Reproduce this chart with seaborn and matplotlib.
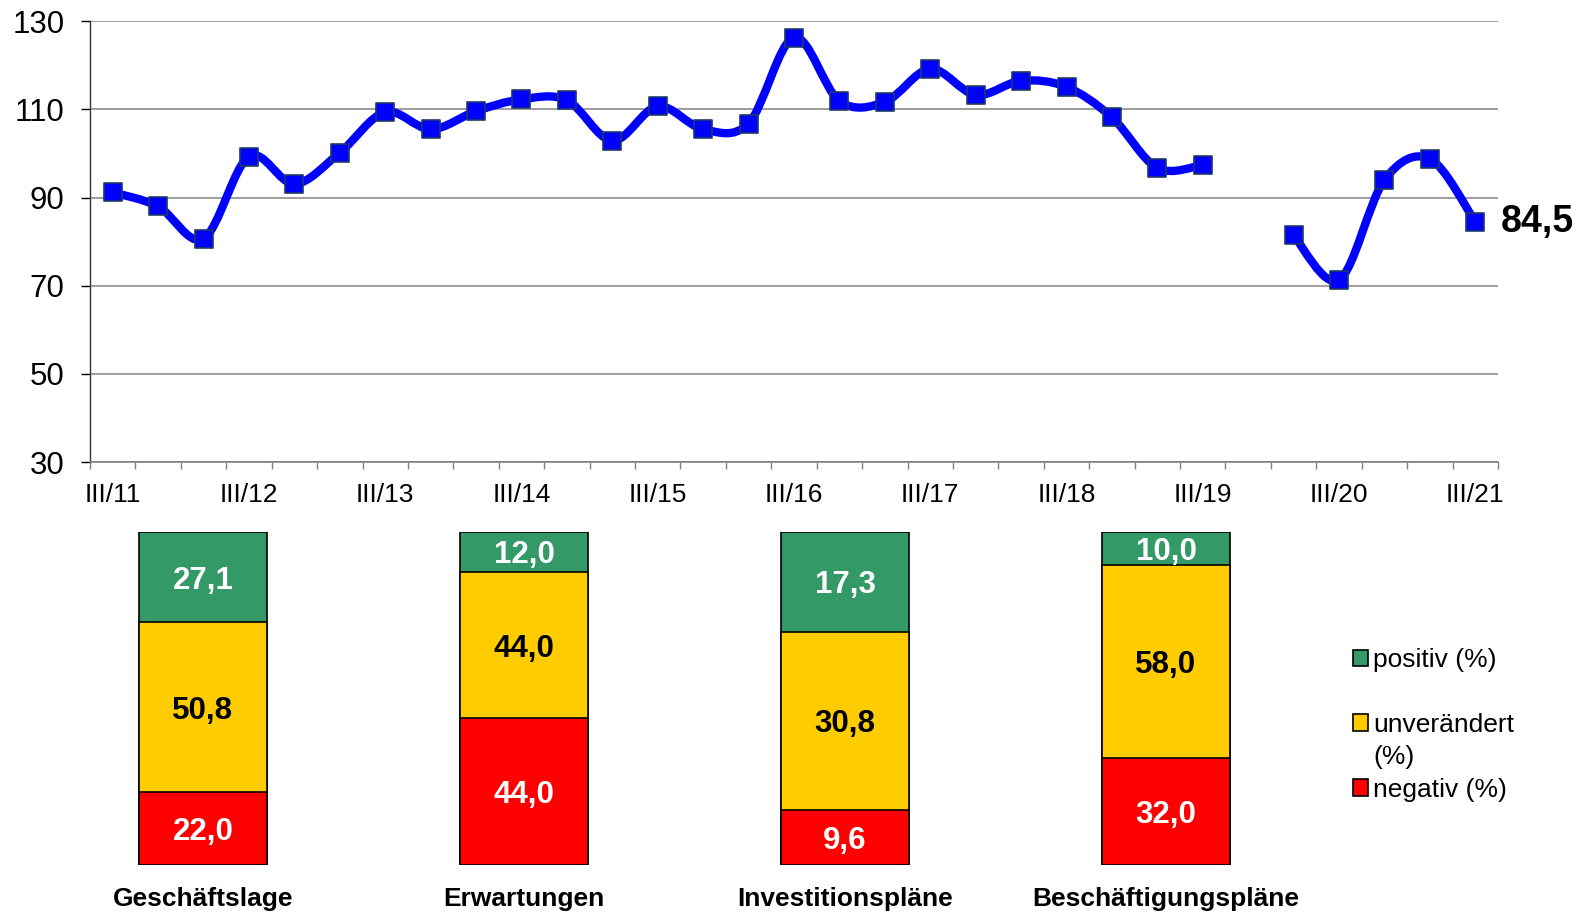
import numpy as np
import seaborn as sns
import matplotlib.pyplot as plt
from matplotlib.path import Path
from matplotlib.patches import PathPatch, Patch

# Zeitreihe Geschäftsklima (drei Umfragen pro Jahr)
perioden = ['III/11', 'I/12', 'II/12', 'III/12', 'I/13', 'II/13', 'III/13',
            'I/14', 'II/14', 'III/14', 'I/15', 'II/15', 'III/15',
            'I/16', 'II/16', 'III/16', 'I/17', 'II/17', 'III/17',
            'I/18', 'II/18', 'III/18', 'I/19', 'II/19', 'III/19',
            'I/20', 'II/20', 'III/20', 'I/21', 'II/21', 'III/21']
klima = [91.2, 88.0, 80.7, 99.3, 93.1, 100.2, 109.4, 105.5, 109.6, 112.3,
         112.1, 102.9, 110.7, 105.5, 106.8, 126.3, 111.9, 111.7, 119.2,
         113.3, 116.5, 115.1, 108.2, 96.7, 97.4, np.nan, 81.4, 71.3, 94.0,
         98.8, 84.5]

# aktuelle Umfrage
kategorien = ['Geschäftslage', 'Erwartungen', 'Investitionspläne', 'Beschäftigungspläne']
positiv = [27.1, 12.0, 17.3, 10.0]
unveraendert = [50.8, 44.0, 30.8, 58.0]
negativ = [22.0, 44.0, 9.6, 32.0]

GRUEN = '#339966'
GELB = '#FFCC00'
ROT = '#FF0000'
BLAU = '#0000FF'


def de(v):
    return f'{v:.1f}'.replace('.', ',')


def glatter_pfad(xs, ys):
    # Excel-artige Glättung (Catmull-Rom als Bezier-Kurven)
    p = np.column_stack([xs, ys])
    n = len(p)
    verts = [p[0]]
    codes = [Path.MOVETO]
    for i in range(n - 1):
        p0 = p[max(i - 1, 0)]
        p1 = p[i]
        p2 = p[i + 1]
        p3 = p[min(i + 2, n - 1)]
        verts += [p1 + (p2 - p0) / 6, p2 - (p3 - p1) / 6, p2]
        codes += [Path.CURVE4] * 3
    return Path(verts, codes)


sns.set_theme(style='white')
plt.rcParams['font.family'] = ['Liberation Sans', 'DejaVu Sans']
plt.rcParams['text.color'] = 'black'
plt.rcParams['xtick.labelcolor'] = 'black'
plt.rcParams['ytick.labelcolor'] = 'black'

W, H = 1588, 913
fig = plt.figure(figsize=(W / 100, H / 100), dpi=100)

# ---- Linienchart oben ----
ax = fig.add_axes([90 / W, 1 - 462 / H, 1408 / W, (462 - 21.3) / H])
pos = np.arange(len(perioden))
werte = np.array(klima)

start = 0
for i in range(len(werte) + 1):
    if i == len(werte) or np.isnan(werte[i]):
        if i - start > 1:
            ax.add_patch(PathPatch(glatter_pfad(pos[start:i], werte[start:i]),
                                   facecolor='none', edgecolor=BLAU, lw=6,
                                   capstyle='round', joinstyle='round', zorder=2))
        start = i + 1

sns.scatterplot(x=pos, y=werte, marker='s', s=165, color=BLAU,
                edgecolor='#1F3A68', linewidth=1.2, zorder=3, ax=ax)

ax.set_xlim(-0.5, len(perioden) - 0.5)
ax.set_ylim(30, 130)
ax.set_yticks(range(30, 131, 20))
ax.yaxis.grid(True, color='#8C8C8C', lw=1.2)
ax.set_axisbelow(True)
ax.set_xticks(pos[::3])
ax.set_xticklabels(perioden[::3])
ax.set_xticks(np.arange(-0.5, len(perioden), 1), minor=True)
ax.tick_params(axis='x', which='major', length=0, labelsize=19, pad=15)
ax.tick_params(axis='x', which='minor', length=5, width=1, color='#808080', bottom=True)
ax.tick_params(axis='y', length=6.5, width=1, color='black', labelsize=22.5, pad=12, left=True)
ax.set_xlabel('')
ax.set_ylabel('')
for s in ['top', 'right']:
    ax.spines[s].set_visible(False)
ax.spines['left'].set_color('#333333')
ax.spines['bottom'].set_color('#808080')
ax.spines['left'].set_linewidth(1)
ax.spines['bottom'].set_linewidth(1.2)

ax.annotate(de(klima[-1]), xy=(pos[-1], klima[-1]), xytext=(18, 0),
            textcoords='offset points', ha='left', va='center',
            fontsize=27, fontweight='bold', color='black')

# ---- gestapelte 100%-Säulen unten ----
ax2 = fig.add_axes([42.5 / W, 1 - 865 / H, 1284 / W, (865 - 532) / H])
summe = np.array(positiv) + np.array(unveraendert) + np.array(negativ)
ant_neg = np.array(negativ) / summe * 100
ant_unv = np.array(unveraendert) / summe * 100
ant_pos = np.array(positiv) / summe * 100

for hoehe, farbe in [(ant_neg + ant_unv + ant_pos, GRUEN),
                     (ant_neg + ant_unv, GELB),
                     (ant_neg, ROT)]:
    sns.barplot(x=kategorien, y=hoehe, color=farbe, saturation=1, width=0.4,
                edgecolor='black', linewidth=1.2, ax=ax2)

for i in range(len(kategorien)):
    ax2.text(i, ant_neg[i] / 2, de(negativ[i]), ha='center', va='center_baseline',
             fontsize=22.5, fontweight='bold', color='white')
    ax2.text(i, ant_neg[i] + ant_unv[i] / 2, de(unveraendert[i]), ha='center',
             va='center_baseline', fontsize=22.5, fontweight='bold', color='black')
    ax2.text(i, ant_neg[i] + ant_unv[i] + ant_pos[i] / 2, de(positiv[i]),
             ha='center', va='center_baseline', fontsize=22.5, fontweight='bold',
             color='white')

ax2.set_xlim(-0.5, len(kategorien) - 0.5)
ax2.set_ylim(0, 100)
ax2.set_yticks([])
ax2.set_xlabel('')
ax2.set_ylabel('')
ax2.tick_params(axis='x', length=0, labelsize=19, pad=16)
for t in ax2.get_xticklabels():
    t.set_fontweight('bold')
for s in ax2.spines.values():
    s.set_visible(False)
ax2.patch.set_alpha(0)

# Legende
handles = [Patch(facecolor=GRUEN, edgecolor='black', lw=1.2),
           Patch(visible=False),
           Patch(facecolor=GELB, edgecolor='black', lw=1.2),
           Patch(visible=False),
           Patch(facecolor=ROT, edgecolor='black', lw=1.2)]
labels = ['positiv (%)', ' ', 'unverändert', '(%)', 'negativ (%)']
fig.legend(handles, labels, loc='upper left', bbox_to_anchor=(1353 / W, 1 - 648 / H),
           frameon=False, fontsize=19, handlelength=0.57, handleheight=0.57,
           handletextpad=0.2, labelspacing=0.32, borderpad=0, borderaxespad=0)

fig.savefig('out.png', dpi=100)
